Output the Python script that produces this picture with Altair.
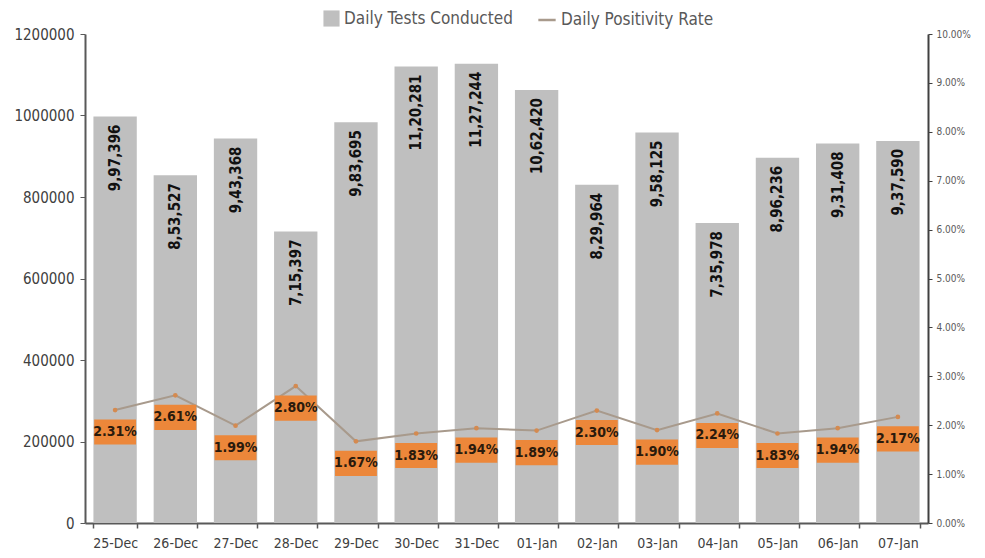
import altair as alt
import pandas as pd

dates = ["25-Dec", "26-Dec", "27-Dec", "28-Dec", "29-Dec", "30-Dec", "31-Dec",
         "01-Jan", "02-Jan", "03-Jan", "04-Jan", "05-Jan", "06-Jan", "07-Jan"]
tests = [997396, 853527, 943368, 715397, 983695, 1120281, 1127244,
         1062420, 829964, 958125, 735978, 896236, 931408, 937590]
test_labels = ["9,97,396", "8,53,527", "9,43,368", "7,15,397", "9,83,695", "11,20,281", "11,27,244",
               "10,62,420", "8,29,964", "9,58,125", "7,35,978", "8,96,236", "9,31,408", "9,37,590"]
rates = [2.31, 2.61, 1.99, 2.80, 1.67, 1.83, 1.94, 1.89, 2.30, 1.90, 2.24, 1.83, 1.94, 2.17]
rate_labels = ["2.31%", "2.61%", "1.99%", "2.80%", "1.67%", "1.83%", "1.94%",
               "1.89%", "2.30%", "1.90%", "2.24%", "1.83%", "1.94%", "2.17%"]

df = pd.DataFrame({
    "date": dates,
    "tests": tests,
    "tlabel": test_labels,
    "rate": [r / 100 for r in rates],
    "rlabel": rate_labels,
    "s1": "Daily Tests Conducted",
    "s2": "Daily Positivity Rate",
})

FONT = "Liberation Sans Narrow, DejaVu Sans Condensed, Arial Narrow, sans-serif"

x = alt.X("date:N", sort=dates,
          scale=alt.Scale(paddingInner=0.28, paddingOuter=0.14),
          axis=alt.Axis(title=None, labelAngle=0, tickBand="extent", tickSize=5,
                        labelFontSize=14, labelColor="#404040", labelPadding=8,
                        domainColor="#595959", domainWidth=2, tickColor="#595959", tickWidth=1.5))

yl = alt.Y("tests:Q", scale=alt.Scale(domain=[0, 1200000]),
           axis=alt.Axis(orient="left", title=None,
                         values=[0, 200000, 400000, 600000, 800000, 1000000, 1200000],
                         format="d", grid=False, labelFontSize=15, labelColor="#404040",
                         domainColor="#595959", domainWidth=2, tickColor="#595959", tickSize=5,
                         labelPadding=6))

yr = alt.Y("rate:Q", scale=alt.Scale(domain=[0, 0.10]),
           axis=alt.Axis(orient="right", title=None, values=[i / 100 for i in range(11)],
                         format=".2%", grid=False, labelFontSize=10, labelColor="#595959",
                         domainColor="#404040", domainWidth=2, tickColor="#404040", tickSize=4,
                         labelPadding=4))

base = alt.Chart(df)

bars = base.mark_bar().encode(
    x=x, y=yl,
    fill=alt.Fill("s1:N", scale=alt.Scale(domain=["Daily Tests Conducted"], range=["#BFBFBF"]),
                  legend=alt.Legend(title=None, orient="none", legendX=238, legendY=-24,
                                    symbolType="square", symbolSize=260, symbolStrokeWidth=0,
                                    labelFontSize=17, labelColor="#595959", labelFont=FONT,
                                    labelLimit=400)),
)

bar_text = base.mark_text(angle=270, align="right", baseline="middle", dx=-8,
                          fontWeight="bold", fontSize=15, color="#111111", font=FONT).encode(
    x=x, y=yl, text="tlabel:N",
)

left = alt.layer(bars, bar_text)

line = base.mark_line(strokeWidth=2).encode(
    x=x, y=yr,
    stroke=alt.Stroke("s2:N", scale=alt.Scale(domain=["Daily Positivity Rate"], range=["#A89A8C"]),
                      legend=alt.Legend(title=None, orient="none", legendX=452, legendY=-24,
                                        symbolType="stroke", symbolSize=300, symbolStrokeWidth=2.5,
                                        labelFontSize=17, labelColor="#595959", labelFont=FONT,
                                        labelLimit=400)),
)

pts = base.mark_point(filled=True, size=22, color="#D48A50", opacity=1).encode(x=x, y=yr)

boxes = base.mark_point(shape="M-1,-0.6H1V0.6H-1Z", filled=True, size=1750,
                        color="#EC873A", opacity=1).encode(x=x, y=yr, yOffset=alt.value(22))

box_text = base.mark_text(dy=22, fontWeight="bold", fontSize=14, color="#2A1A0C",
                          font=FONT).encode(x=x, y=yr, text="rlabel:N")

right = alt.layer(line, pts, boxes, box_text)

chart = alt.layer(left, right).resolve_scale(y="independent").properties(
    width=843, height=489,
    autosize=alt.AutoSizeParams(type="none"),
    padding={"left": 77, "top": 26, "right": 49, "bottom": 27},
).configure_view(stroke=None).configure_axis(labelFont=FONT).configure_legend(labelFont=FONT)

chart.save("out.html", embed_options={"renderer": "svg", "actions": False})
